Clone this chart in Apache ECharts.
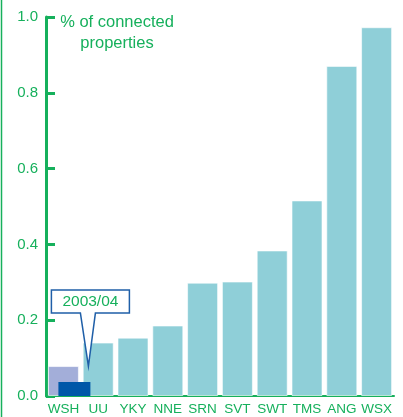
<!DOCTYPE html>
<html><head><meta charset="utf-8">
<script src="https://cdn.jsdelivr.net/npm/echarts@6/dist/echarts.min.js"></script>
<style>html,body{margin:0;padding:0;background:#fff}#c{width:403px;height:417px}</style>
</head><body><div id="c"></div>
<script>
var categories = ['WSH','UU','YKY','NNE','SRN','SVT','SWT','TMS','ANG','WSX'];
var values = [0.079, 0.141, 0.154, 0.186, 0.299, 0.302, 0.384, 0.516, 0.871, 0.973];
var values0304 = [0.037, '-', '-', '-', '-', '-', '-', '-', '-', '-'];
var yTicks = [0, 0.2, 0.4, 0.6, 0.8, 1.0];
var calloutLabel = '2003/04';
var axisName = '% of connected\nproperties';

var GREEN = '#16b05c';
var chart = echarts.init(document.getElementById('c'), null, {renderer:'canvas'});
var barColors = values.map(function(v,i){ return i === 0 ? '#a3aed9' : '#8fcfd8'; });
chart.setOption({
  animation: false,
  grid: {left: 46, right: 9, top: 17, bottom: 21, containLabel: false},
  xAxis: [{
    type: 'category', data: categories,
    axisLine: {lineStyle: {color: GREEN, width: 2}},
    axisTick: {inside: true, length: 8, lineStyle: {color: GREEN, width: 2}},
    axisLabel: {color: GREEN, fontSize: 13.5, fontFamily: 'Liberation Sans Narrow, Liberation Sans, Arial', margin: 6, interval: 0}
  }, {
    type: 'category', data: categories, show: false
  }],
  yAxis: {
    type: 'value', min: yTicks[0], max: yTicks[yTicks.length-1], interval: 0.2,
    axisLine: {show: true, lineStyle: {color: GREEN, width: 3}},
    axisTick: {show: true, inside: true, length: 9, lineStyle: {color: GREEN, width: 3}},
    splitLine: {show: false},
    axisLabel: {color: GREEN, fontSize: 15, fontFamily: 'Liberation Sans, Arial', margin: 8,
      formatter: function(v){ return v.toFixed(1); }}
  },
  series: [{
    type: 'bar', xAxisIndex: 0, barWidth: 31,
    data: values.map(function(v,i){ return {value: v, itemStyle: {color: barColors[i]}}; }),
    itemStyle: {borderColor: 'rgba(255,255,255,0.6)', borderWidth: 1}
  }, {
    type: 'bar', xAxisIndex: 1, barWidth: 22, barGap: 0, data: [], silent: true
  }, {
    type: 'bar', xAxisIndex: 1, barWidth: 32, barGap: 0, data: values0304,
    itemStyle: {color: '#0057a8'}, z: 3
  }],
  graphic: [{
    type: 'line', shape: {x1: 1.5, y1: 0, x2: 1.5, y2: 417},
    style: {stroke: GREEN, lineWidth: 1.5}
  }, {
    type: 'text', x: 117, y: 12,
    style: {text: axisName, fill: GREEN, fontSize: 16.5, fontFamily: 'Liberation Sans, Arial', align: 'center', textAlign: 'center', lineHeight: 21}
  }]
});

// callout anchored on the 2003/04 bar via the library's coordinate conversion
var tip = chart.convertToPixel({xAxisIndex: 0, yAxisIndex: 0}, [categories[0], values[0]]);
var tx = tip[0] + 25, ty = tip[1];
var bx = tx - 37, by = ty - 76, bw = 78, bh = 23;
chart.setOption({graphic: [{}, {}, {
  type: 'polygon', z: 100,
  shape: {points: [[bx,by],[bx+bw,by],[bx+bw,by+bh],[tx+7,by+bh],[tx,ty],[tx-8,by+bh],[bx,by+bh]]},
  style: {fill: '#fff', stroke: '#1f5fa8', lineWidth: 1.5}
}, {
  type: 'text', z: 101, x: bx + bw/2, y: by + bh/2,
  style: {text: calloutLabel, fill: GREEN, fontSize: 15.5, fontFamily: 'Liberation Sans, Arial', align: 'center', verticalAlign: 'middle', textAlign: 'center', textVerticalAlign: 'middle'}
}]});
</script></body></html>
